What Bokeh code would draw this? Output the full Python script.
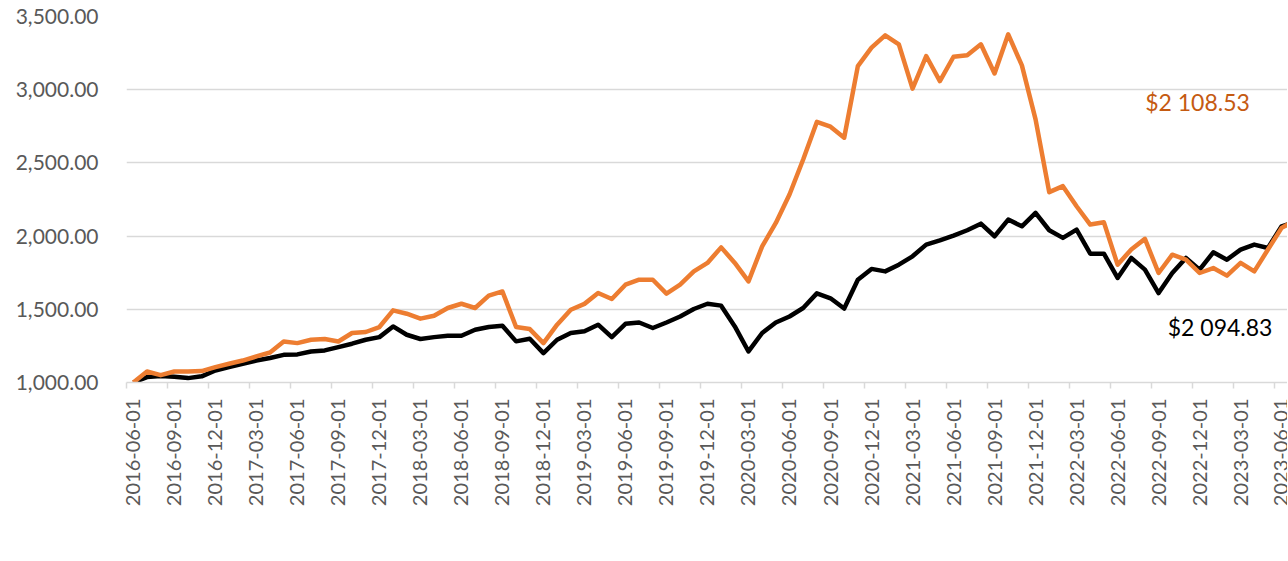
import math
import pandas as pd
from bokeh.plotting import figure
from bokeh.models import (ColumnDataSource, FixedTicker, NumeralTickFormatter, Range1d,
                          Legend, LegendItem, Label)
from bokeh.embed import file_html
from bokeh.resources import INLINE

# ---------------- data ----------------
dates = [d.strftime("%Y-%m-%d") for d in pd.date_range("2016-06-01", periods=86, freq="MS")]

msci_world_tr = [
    1000, 1037, 1045, 1040, 1030, 1042, 1082, 1105, 1128, 1150,
    1167, 1189, 1192, 1212, 1219, 1242, 1265, 1292, 1310, 1383,
    1326, 1297, 1310, 1319, 1319, 1360, 1379, 1388, 1281, 1299,
    1201, 1292, 1338, 1350, 1395, 1310, 1401, 1410, 1372, 1410,
    1451, 1502, 1538, 1525, 1383, 1212, 1338, 1410, 1451, 1509,
    1609, 1575, 1505, 1702, 1776, 1759, 1805, 1862, 1942, 1971,
    2003, 2040, 2085, 1999, 2113, 2067, 2159, 2040, 1988, 2044,
    1880, 1880, 1714, 1851, 1771, 1611, 1748, 1851, 1771, 1889,
    1839, 1908, 1942, 1919, 2067, 2094.83,
]

enhanced_usd_bundle = [
    1000, 1075, 1050, 1075, 1075, 1078, 1105, 1128, 1150, 1178,
    1205, 1280, 1269, 1292, 1297, 1280, 1338, 1345, 1379, 1493,
    1470, 1436, 1456, 1509, 1538, 1509, 1593, 1622, 1379, 1365,
    1269, 1395, 1497, 1537, 1611, 1570, 1668, 1702, 1702, 1607,
    1668, 1759, 1817, 1923, 1817, 1691, 1930, 2090, 2284, 2523,
    2780, 2747, 2672, 3161, 3287, 3371, 3310, 3007, 3230, 3059,
    3225, 3235, 3310, 3111, 3378, 3166, 2797, 2300, 2341, 2204,
    2079, 2094, 1805, 1908, 1981, 1748, 1873, 1839, 1748, 1782,
    1730, 1817, 1759, 1908, 2056, 2108.53,
]

series_names = ["MSCI World TR", "Enhanced USD Bundle**"]
end_labels = ["$2 094.83", "$2 108.53"]
y_ticks = [1000, 1500, 2000, 2500, 3000, 3500]

# ---------------- figure ----------------
FONT = "Lato"
idx = list(range(len(dates)))
src = ColumnDataSource(dict(i=idx, date=dates, msci=msci_world_tr, enh=enhanced_usd_bundle))

p = figure(frame_width=1161, frame_height=366,
           output_backend="svg", toolbar_location=None,
           x_range=Range1d(-0.5, 84.43), y_range=Range1d(1000, 3500),
           min_border_left=126, min_border_right=0, min_border_top=16, min_border_bottom=0)
p.outline_line_color = None
p.background_fill_color = "white"
p.border_fill_color = "white"

r_msci = p.line("i", "msci", source=src, line_color="#000000", line_width=4.5, line_join="round")
r_enh = p.line("i", "enh", source=src, line_color="#ED7D31", line_width=4.5, line_join="round")

# x axis
major = idx[0:85:3]
minor = [m - 0.5 for m in major]
p.xaxis.ticker = FixedTicker(ticks=major, minor_ticks=minor)
p.xaxis.major_label_overrides = {i: dates[i] for i in major}
p.xaxis.major_label_orientation = math.pi / 2
p.xaxis.major_tick_line_color = None
p.xaxis.minor_tick_line_color = "#D9D9D9"
p.xaxis.minor_tick_line_width = 1.5
p.xaxis.minor_tick_in = 0
p.xaxis.minor_tick_out = 6
p.xaxis.axis_line_color = "#D9D9D9"
p.xaxis.axis_line_width = 1.5
p.xaxis.major_label_text_color = "#595959"
p.xaxis.major_label_text_font = FONT
p.xaxis.major_label_text_font_size = "20px"
p.xaxis.major_label_standoff = 10
p.xgrid.grid_line_color = None

# y axis
p.yaxis.ticker = FixedTicker(ticks=y_ticks)
p.yaxis.formatter = NumeralTickFormatter(format="0,0.00")
p.yaxis.axis_line_color = None
p.yaxis.major_tick_line_color = None
p.yaxis.minor_tick_line_color = None
p.yaxis.major_label_text_color = "#595959"
p.yaxis.major_label_text_font = FONT
p.yaxis.major_label_text_font_size = "21px"
p.yaxis.major_label_standoff = 22
p.ygrid.grid_line_color = "#D9D9D9"
p.ygrid.grid_line_width = 1.5

# end-value labels
p.add_layout(Label(x=77.85, y=2913, text=end_labels[1], text_align="center",
                   text_baseline="middle", text_color="#C55A11", text_font=FONT,
                   text_font_size="23px"))
p.add_layout(Label(x=79.5, y=1381, text=end_labels[0], text_align="center",
                   text_baseline="middle", text_color="#000000", text_font=FONT,
                   text_font_size="23px"))

legend = Legend(items=[LegendItem(label=series_names[0], renderers=[r_msci]),
                       LegendItem(label=series_names[1], renderers=[r_enh])],
                orientation="horizontal", location=(267, 44),
                border_line_color=None, background_fill_alpha=0,
                label_text_color="#595959", label_text_font=FONT,
                label_text_font_size="21px", glyph_width=55, glyph_height=18,
                label_height=18, label_standoff=5, spacing=40, padding=0, margin=0)
p.add_layout(legend, "below")

open("out.html", "w").write(file_html(p, INLINE))
